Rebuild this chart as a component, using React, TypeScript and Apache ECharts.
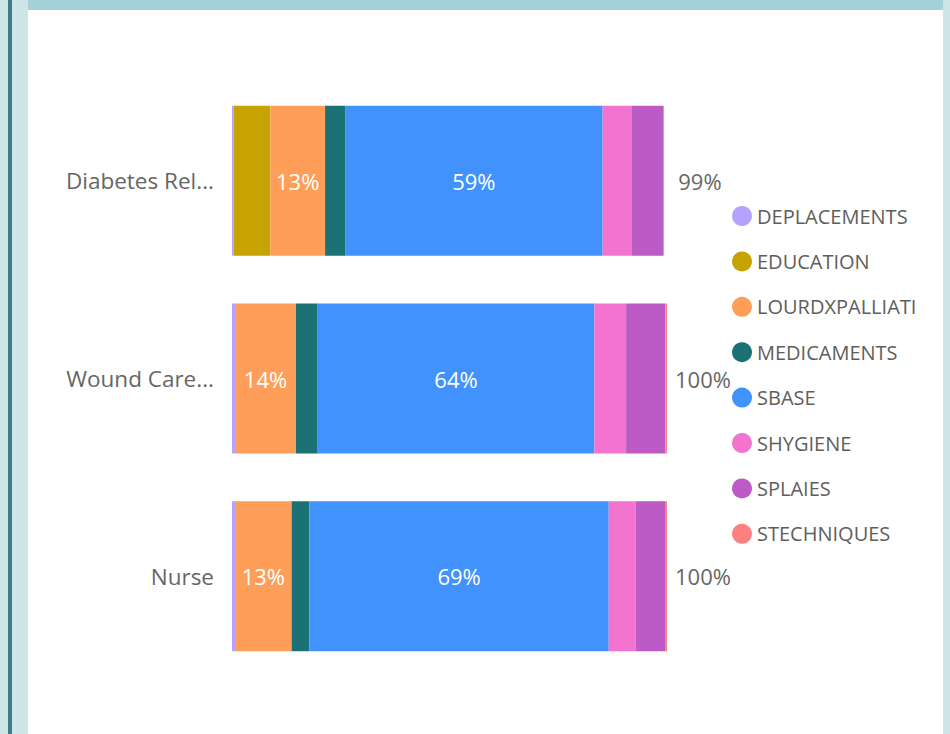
import React, { useEffect, useRef } from "react";
import * as echarts from "echarts";

const categories = ["Diabetes Rel...", "Wound Care...", "Nurse"];
const seriesNames = [
  "DEPLACEMENTS",
  "EDUCATION",
  "LOURDXPALLIATI",
  "MEDICAMENTS",
  "SBASE",
  "SHYGIENE",
  "SPLAIES",
  "STECHNIQUES",
];
// percentage shares per category (Diabetes, Wound Care, Nurse)
const deplacements = [0.4, 0.7, 0.7];
const education = [8.4, 0, 0];
const lourdxpalliati = [12.6, 14.0, 13.0];
const medicaments = [4.6, 5.0, 4.1];
const sbase = [59.2, 63.6, 68.8];
const shygiene = [6.6, 7.3, 6.2];
const splaies = [7.3, 9.0, 6.9];
const stechniques = [0.2, 0.4, 0.3];
const colors = ["#b4a2fd", "#c6a300", "#fe9e58", "#1b7174", "#4192fd", "#f274cf", "#bd5bc6", "#fe8080"];
const labelled = ["LOURDXPALLIATI", "SBASE"];

const allValues = [deplacements, education, lourdxpalliati, medicaments, sbase, shygiene, splaies, stechniques];
const totals = categories.map((_, i) => allValues.reduce((s, arr) => s + arr[i], 0));

const FONT = "'Segoe UI', 'Open Sans', sans-serif";

export default function App() {
  const ref = useRef<HTMLDivElement>(null);
  useEffect(() => {
    if (!ref.current) return;
    const chart = echarts.init(ref.current, null, { renderer: "svg" });
    const series: any[] = seriesNames.map((name, si) => {
      const isLast = si === seriesNames.length - 1;
      const showIn = labelled.includes(name);
      return {
        name,
        type: "bar",
        stack: "total",
        barWidth: 150,
        data: allValues[si].map((v) => v / 100),
        itemStyle: { color: colors[si] },
        label: isLast
          ? {
              show: true,
              position: ["100%", "50%"],
              offset: [36, 0],
              align: "center",
              verticalAlign: "middle",
              color: "#666666",
              fontSize: 22,
              fontFamily: FONT,
              formatter: (p: any) => Math.round(totals[p.dataIndex]) + "%",
            }
          : showIn
          ? {
              show: true,
              position: "inside",
              color: "#ffffff",
              fontSize: 22,
              fontFamily: FONT,
              formatter: (p: any) => Math.round(p.value * 100) + "%",
            }
          : { show: false },
      };
    });
    chart.setOption({
      animation: false,
      backgroundColor: "#ffffff",
      graphic: [
        { type: "rect", silent: true, z: -10, shape: { x: 0, y: 0, width: 28, height: 734 }, style: { fill: "#cfe6e9" } },
        { type: "rect", silent: true, z: -9, shape: { x: 8, y: 0, width: 4, height: 734 }, style: { fill: "#3f7c84" } },
        { type: "rect", silent: true, z: -10, shape: { x: 943, y: 0, width: 7, height: 734 }, style: { fill: "#cfe6e9" } },
        { type: "rect", silent: true, z: -10, shape: { x: 28, y: 0, width: 915, height: 10 }, style: { fill: "#a5d1d8" } },
      ],
      legend: {
        orient: "vertical",
        left: 727,
        top: 201,
        icon: "circle",
        itemWidth: 20,
        itemHeight: 20,
        itemGap: 25.4,
        textStyle: { color: "#605e5c", fontSize: 20, fontFamily: FONT },
        data: seriesNames,
      },
      grid: { left: 232, right: 283, top: 82, bottom: 59, containLabel: false },
      xAxis: {
        type: "value",
        min: 0,
        max: 1,
        show: false,
      },
      yAxis: {
        type: "category",
        data: categories,
        inverse: true,
        axisLine: { show: false },
        axisTick: { show: false },
        axisLabel: { color: "#666666", fontSize: 22.5, fontFamily: FONT, margin: 18 },
      },
      series,
    });
    return () => chart.dispose();
  }, []);
  return (
    <div style={{ position: "fixed", left: 0, top: 0, width: 950, height: 734 }}>
      <div ref={ref} style={{ width: 950, height: 734 }} />
    </div>
  );
}
